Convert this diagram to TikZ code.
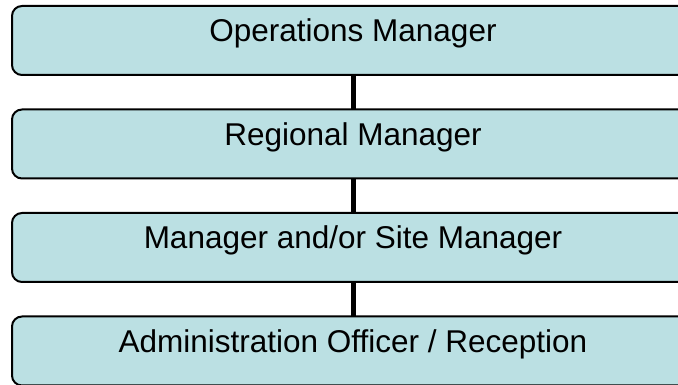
\documentclass[tikz,border=0pt]{standalone}
\usepackage{fontspec}
\setmainfont{Liberation Sans}
\usetikzlibrary{positioning}
\definecolor{boxblue}{RGB}{187,224,227}

\begin{document}
\begin{tikzpicture}[x=1pt,y=1pt,
  role/.style={draw, line width=2pt, rounded corners=10pt, fill=boxblue,
    minimum width=682pt, minimum height=69pt, inner sep=0pt, outer sep=0pt,
    text height=18pt, text depth=15pt,
    font=\fontsize{31.5}{31.5}\selectfont},
  link/.style={line width=5pt},
  node distance=34.5pt]
  % page frame, the boxes run off the right edge
  \path[use as bounding box, clip] (0,0) rectangle (678,385);

  % Define nodes
  \node[role, anchor=north west] at (12,379) (ops) {Operations Manager};
  \node[role, below=of ops]  (reg)  {Regional Manager};
  \node[role, below=of reg]  (site) {Manager and/or Site Manager};
  \node[role, below=of site] (admin){Administration Officer / Reception};

  % Connect the nodes
  \draw[link] (ops) -- (reg);
  \draw[link] (reg) -- (site);
  \draw[link] (site) -- (admin);
\end{tikzpicture}
\end{document}
